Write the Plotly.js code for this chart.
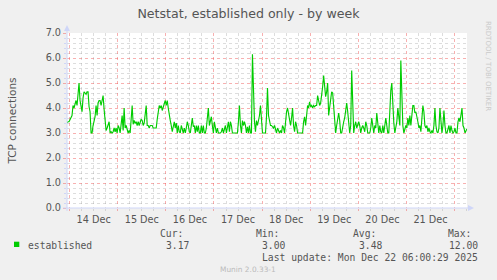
<!DOCTYPE html>
<html>
<head>
<meta charset="utf-8">
<script src="https://cdn.plot.ly/plotly-3.0.1.min.js"></script>
<style>
html,body{margin:0;padding:0;background:#F0F0F0;}
#chart{width:497px;height:280px;}
</style>
</head>
<body>
<div id="chart"></div>
<script>
// ---- data ----
const chartTitle = 'Netstat, established only - by week';
const yAxisTitle = 'TCP connections';
const seriesName = 'established';
const startTime = '2025-12-13T22:42:00';
const stepMinutes = 30;
const established = [
  3.4, 3.45, 3.45, 3.55, 3.65, 3.7, 4.1, 4.0, 4.15, 4.3,
  4.1, 4.6, 5.0, 4.3, 4.1, 3.85, 4.4, 4.65, 4.6, 4.55,
  4.65, 4.65, 4.05, 3.85, 3.0, 3.0, 3.3, 3.5, 3.65, 4.1,
  3.7, 4.2, 4.3, 4.3, 4.1, 4.3, 4.5, 3.95, 3.5, 3.1,
  3.2, 3.35, 3.45, 3.0, 3.05, 3.0, 3.05, 3.2, 3.05, 3.2,
  3.0, 3.3, 3.2, 3.0, 3.3, 3.7, 3.1, 4.0, 3.2, 3.3,
  3.15, 3.0, 3.1, 3.0, 3.55, 4.1, 3.35, 3.5, 3.4, 3.45,
  3.3, 3.45, 3.3, 3.45, 3.55, 3.5, 3.3, 3.4, 3.75, 4.1,
  3.3, 3.3, 3.2, 3.3, 3.3, 3.3, 3.2, 3.2, 3.2, 3.2,
  3.55, 3.85, 4.1, 4.0, 4.1, 3.9, 4.05, 4.1, 4.3, 4.1,
  4.3, 4.0, 3.6, 3.5, 3.3, 3.05, 3.25, 3.45, 3.2, 3.4,
  3.0, 3.3, 3.05, 3.0, 3.3, 3.1, 3.0, 3.2, 3.0, 3.2,
  3.45, 3.3, 3.05, 3.0, 3.3, 3.6, 3.25, 3.3, 3.0, 3.3,
  3.05, 3.3, 3.0, 3.0, 3.3, 3.0, 3.3, 3.0, 3.0, 3.2,
  3.6, 4.0, 3.3, 3.45, 3.65, 3.3, 3.0, 3.45, 3.25, 3.0,
  3.2, 3.0, 3.0, 3.0, 3.05, 3.2, 3.0, 3.2, 3.3, 3.0,
  3.3, 3.45, 3.05, 3.45, 3.3, 3.0, 3.0, 3.0, 3.0, 3.0,
  3.0, 3.45, 4.1, 3.3, 3.0, 3.5, 3.3, 3.45, 3.3, 3.0,
  3.25, 3.0, 3.3, 3.0, 3.0, 6.15, 4.1, 3.45, 3.05, 3.5,
  3.3, 3.45, 3.7, 4.1, 3.3, 3.0, 3.0, 3.0, 3.0, 3.65,
  4.8, 3.7, 3.45, 3.3,
  3.3, 3.25, 3.2, 3.3, 3.1, 3.0, 3.2, 3.05, 3.0, 3.1,
  3.0, 3.3, 3.2, 3.0, 3.6, 3.85, 4.0, 3.8, 3.65, 3.3,
  3.6, 4.0, 3.3, 3.05, 3.45, 3.3, 3.0, 3.0, 3.0, 3.0,
  3.0, 3.0, 3.45, 3.65, 3.3, 3.7, 4.1, 4.0, 4.25, 4.05,
  4.1, 4.0, 4.1, 4.05, 4.1, 4.1, 4.5, 4.3, 4.1, 4.2,
  4.45, 4.85, 5.3, 4.65, 4.45, 4.65, 5.0, 3.7, 4.1, 4.45,
  4.65, 4.6, 4.1, 3.3, 3.0, 3.3, 3.65, 3.8, 3.5, 3.0,
  3.0, 3.3, 3.45, 3.6, 3.9, 4.2, 3.85, 3.2, 3.0, 3.3,
  5.5, 4.25, 3.0, 3.3, 3.45, 3.2, 3.3, 3.45, 3.3, 3.0,
  3.2, 3.3, 3.2, 3.05, 3.45, 3.3, 3.0, 3.0, 3.0, 3.2,
  3.6, 3.3, 3.0, 3.3, 3.2, 3.8, 3.3, 3.0, 3.3, 3.05,
  3.0, 3.3, 3.0, 3.3, 3.6, 3.3, 3.0, 3.0, 3.9, 4.7,
  5.0, 4.0, 3.4, 3.0, 3.3, 3.45, 4.0, 3.65, 3.3, 5.9,
  4.1, 3.3, 3.0, 3.2, 3.3, 3.2, 3.6, 3.3, 3.7, 3.3,
  3.85, 4.1, 4.1, 3.8, 3.85, 3.7, 3.45, 3.2, 3.3, 3.05,
  3.65, 4.1, 3.85, 3.3, 3.2, 3.3, 3.05, 3.2, 3.05, 3.0,
  3.1, 3.0, 3.3, 4.0, 3.3, 3.05, 3.0, 3.2, 4.0, 3.3,
  3.0, 3.3, 3.9, 3.3, 3.0, 3.0, 3.2, 3.3, 3.0, 3.3,
  3.1, 3.0, 3.05, 3.2, 3.0, 3.0, 3.45, 3.6, 3.45, 3.7,
  4.0, 3.3, 3.2, 3.0, 3.1, 3.17
];
const xRange = ['2025-12-13 22:42', '2025-12-22 06:12'];
const yRange = [0, 7];
const statLabels = ['Cur:', 'Min:', 'Avg:', 'Max:'];
const statValues = ['3.17', '3.00', '3.48', '12.00'];
const lastUpdate = 'Last update: Mon Dec 22 06:00:29 2025';
const footer = 'Munin 2.0.33-1';
const watermark = 'RRDTOOL / TOBI OETIKER';

// ---- build ----
const t0 = Date.parse(startTime + 'Z');
const times = established.map((_, i) =>
  new Date(t0 + i * stepMinutes * 60000).toISOString().slice(0, 19).replace('T', ' '));

// pixel helpers for plot area (l=67, t=33, w=400, h=175)
const L = 67, T = 33, W = 400, H = 175;
const px = x => (x - L) / W;
const py = y => (T + H - y) / H;

const MONO = 'DejaVu Sans Mono';
const SANS = 'DejaVu Sans';
const FONTC = '#555555';
const MGRID = 'rgba(240,80,80,0.45)';
const GRID = 'rgba(150,150,150,0.32)';
const AXIS = '#CFD6F8';

const trace = {
  type: 'scatter', mode: 'lines', x: times, y: established, name: seriesName,
  line: {color: '#00CC00', width: 1.15}, hoverinfo: 'skip', showlegend: false
};

const statX = [158.7, 255.3, 351.7, 447.3];
const valX = [164.7, 261.3, 357.7, 447.7];
const ann = [];
function txt(text, x, y, opts) {
  ann.push(Object.assign({
    text: text, xref: 'paper', yref: 'paper', x: px(x), y: py(y),
    xanchor: 'left', yanchor: 'middle', showarrow: false, borderpad: 0,
    font: {family: MONO, size: 9.7, color: FONTC}
  }, opts || {}));
}
txt(seriesName, 26.7, 245.3);
statLabels.forEach((s, i) => txt(s, statX[i], 233.3));
statValues.forEach((s, i) => txt(s, valX[i], 245.3));
txt(lastUpdate, 261.3, 257.3);
txt(footer, 218.7, 269.3, {font: {family: SANS, size: 7.4, color: '#BBBBBB'}});
txt(watermark, 488, 66, {xanchor: 'center', textangle: 90,
  font: {family: SANS, size: 7, color: '#CACACA'}});

const shapes = [
  // legend swatch
  {type: 'rect', xref: 'paper', yref: 'paper', x0: px(14), x1: px(19.3), y0: py(247), y1: py(241.7),
   fillcolor: '#00CC00', line: {width: 0}},
  // axis lines + arrows
  {type: 'line', xref: 'paper', yref: 'paper', x0: px(63), x1: px(469), y0: 0, y1: 0,
   line: {color: AXIS, width: 1}},
  {type: 'path', xref: 'paper', yref: 'paper',
   path: `M ${px(468)} ${py(205)} L ${px(474)} ${py(208)} L ${px(468)} ${py(211)} Z`,
   fillcolor: AXIS, line: {width: 0}},
  {type: 'line', xref: 'paper', yref: 'paper', x0: 0, x1: 0, y0: py(211), y1: py(30),
   line: {color: AXIS, width: 1}},
  {type: 'path', xref: 'paper', yref: 'paper',
   path: `M ${px(64)} ${py(31)} L ${px(67)} ${py(25)} L ${px(70)} ${py(31)} Z`,
   fillcolor: AXIS, line: {width: 0}}
];

const layout = {
  width: 497, height: 280, autosize: false,
  paper_bgcolor: '#F0F0F0', plot_bgcolor: '#FFFFFF',
  margin: {l: L, r: 497 - L - W, t: T, b: 280 - T - H, pad: 0},
  showlegend: false,
  title: {text: chartTitle, font: {family: SANS, size: 12.6, color: FONTC},
          x: 0.5, xref: 'container', xanchor: 'center', y: 1 - 13.5 / 280, yref: 'container', yanchor: 'middle'},
  xaxis: {
    type: 'date', range: xRange, tick0: '2025-12-14', dtick: 86400000,
    ticklabelmode: 'period', tickformat: '%d %b',
    showgrid: true, gridcolor: MGRID, griddash: 'dot', gridwidth: 1,
    ticks: 'outside', ticklen: 2, tickcolor: MGRID, tickwidth: 1,
    showline: false, zeroline: false,
    minor: {dtick: 21600000, tick0: '2025-12-14', showgrid: true, gridcolor: GRID, griddash: 'dot', gridwidth: 1,
            ticks: 'outside', ticklen: 2, tickcolor: GRID},
    tickfont: {family: SANS, size: 9.7, color: FONTC}, fixedrange: true
  },
  yaxis: {
    range: yRange, tick0: 0, dtick: 1, tickformat: '.1f',
    showgrid: true, gridcolor: MGRID, griddash: 'dot', gridwidth: 1,
    ticks: 'outside', ticklen: 3, tickcolor: MGRID, tickwidth: 1,
    showline: false, zeroline: false,
    minor: {dtick: 0.2, tick0: 0, showgrid: true, gridcolor: GRID, griddash: 'dot', gridwidth: 1,
            ticks: 'outside', ticklen: 2, tickcolor: AXIS},
    tickfont: {family: SANS, size: 9.7, color: FONTC},
    title: {text: yAxisTitle, font: {family: SANS, size: 10.5, color: FONTC}, standoff: 26},
    automargin: false, fixedrange: true
  },
  annotations: ann,
  shapes: shapes
};

Plotly.newPlot('chart', [trace], layout, {staticPlot: true, displayModeBar: false});
</script>
</body>
</html>
